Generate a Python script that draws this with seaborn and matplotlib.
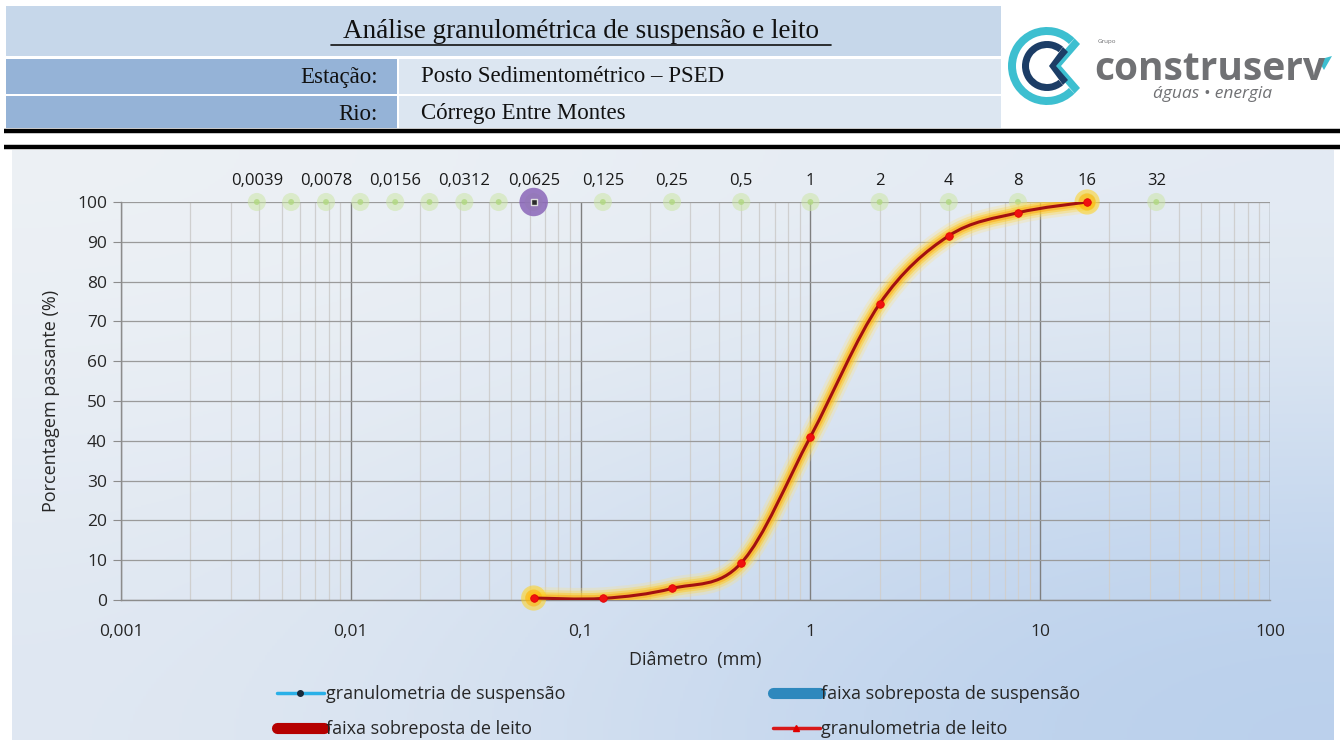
import numpy as np
import matplotlib
matplotlib.use("Agg")
import matplotlib.pyplot as plt
import seaborn as sns
import pandas as pd
from matplotlib.path import Path
from matplotlib.patches import PathPatch, Rectangle, Wedge, Polygon
from matplotlib.lines import Line2D
from matplotlib.ticker import FixedLocator, FixedFormatter, NullFormatter
import matplotlib.transforms as mtransforms

# ---------------- data ----------------
title = "Análise granulométrica de suspensão e leito"
station_label = "Estação:"
station = "Posto Sedimentométrico – PSED"
river_label = "Rio:"
river = "Córrego Entre Montes"

leito_diam = [0.0625, 0.125, 0.25, 0.5, 1, 2, 4, 8, 16]
leito_pct = [0.5, 0.4, 2.9, 9.3, 41.0, 74.4, 91.5, 97.3, 100.0]
susp_diam = [0.0625]
susp_pct = [100.0]
ref_diam = [0.0039, 0.0055, 0.0078, 0.011, 0.0156, 0.022, 0.0312, 0.044, 0.0625,
            0.125, 0.25, 0.5, 1, 2, 4, 8, 16, 32]
top_label_vals = [0.0039, 0.0078, 0.0156, 0.0312, 0.0625, 0.125, 0.25, 0.5, 1, 2, 4, 8, 16, 32]
top_labels = ["0,0039", "0,0078", "0,0156", "0,0312", "0,0625", "0,125", "0,25", "0,5",
              "1", "2", "4", "8", "16", "32"]
x_ticks = [0.001, 0.01, 0.1, 1, 10, 100]
x_tick_labels = ["0,001", "0,01", "0,1", "1", "10", "100"]
y_ticks = list(range(0, 101, 10))
legend_labels = ["granulometria de suspensão", "faixa sobreposta de suspensão",
                 "faixa sobreposta de leito", "granulometria de leito"]

# ---------------- style ----------------
sns.set_style("white")
plt.rcParams["font.family"] = ["Open Sans", "DejaVu Sans"]

W, H = 1344, 743
fig = plt.figure(figsize=(W / 100, H / 100), dpi=100)
fig.patch.set_facecolor("white")

# background / header axes in pixel coordinates
bg = fig.add_axes([0, 0, 1, 1], zorder=0)
bg.set_xlim(0, W)
bg.set_ylim(H, 0)
bg.axis("off")

# gradient of chart area
grad = np.array([[[0.93, 0.945, 0.96], [0.90, 0.925, 0.955]],
                 [[0.88, 0.91, 0.95], [0.72, 0.81, 0.925]]])
bg.imshow(grad, extent=(12, 1334, 740, 150), interpolation="bicubic", aspect="auto", zorder=0)

# header table
serif = ["Liberation Serif", "DejaVu Serif"]
bg.add_patch(Rectangle((6, 6), 995, 50, facecolor="#c6d7ea", edgecolor="none"))
bg.add_patch(Rectangle((6, 59), 391, 35, facecolor="#95b3d7", edgecolor="none"))
bg.add_patch(Rectangle((399, 59), 602, 35, facecolor="#dce6f1", edgecolor="none"))
bg.add_patch(Rectangle((6, 96), 391, 32, facecolor="#95b3d7", edgecolor="none"))
bg.add_patch(Rectangle((399, 96), 602, 32, facecolor="#dce6f1", edgecolor="none"))
bg.text(581, 32, title, family=serif, fontsize=19.5, ha="center", va="center", color="#111111")
bg.plot([331, 831], [45, 45], color="#111111", lw=1.2)
bg.text(378, 77, station_label, family=serif, fontsize=16.5, ha="right", va="center", color="#111111")
bg.text(421, 77, station, family=serif, fontsize=16.5, ha="left", va="center", color="#111111")
bg.text(378, 114, river_label, family=serif, fontsize=16.5, ha="right", va="center", color="#111111")
bg.text(421, 114, river, family=serif, fontsize=16.5, ha="left", va="center", color="#111111")
bg.plot([4, 1340], [130.5, 130.5], color="black", lw=3.2, solid_capstyle="butt")
bg.plot([4, 1340], [146.5, 146.5], color="black", lw=3.2, solid_capstyle="butt")

# logo
cx, cy = 1047, 66
bg.add_patch(Wedge((cx, cy), 39, 45, 315, width=8, facecolor="#3dbfd0", edgecolor="none"))
bg.add_patch(Polygon([[cx + 27.6, cy - 27.6], [cx + 33, cy - 22], [cx + 14, cy], [cx + 33, cy + 22],
                      [cx + 27.6, cy + 27.6], [cx + 4, cy]], closed=True, facecolor="#3dbfd0", edgecolor="none"))
bg.add_patch(Wedge((cx, cy), 25, 50, 310, width=7, facecolor="#1c3d66", edgecolor="none"))
bg.add_patch(Polygon([[cx + 16, cy - 19], [cx + 21, cy - 14], [cx + 9, cy], [cx + 21, cy + 14],
                      [cx + 16, cy + 19], [cx + 2, cy]], closed=True, facecolor="#1c3d66", edgecolor="none"))
bg.text(1098, 42, "Grupo", fontsize=4.5, color="#6d6e71", ha="left", va="center")
bg.text(1094, 69, "construserv", family=["Open Sans", "DejaVu Sans"], fontsize=28, fontweight="bold",
        color="#707174", ha="left", va="center", fontstretch="condensed")
bg.add_patch(Polygon([[1318, 60], [1332, 56], [1324, 70]], closed=True, facecolor="#3dbfd0", edgecolor="none"))
bg.text(1213, 94, "águas • energia", fontsize=12.5, style="italic", color="#707174", ha="center", va="center")

# ---------------- main plot ----------------
ax = fig.add_axes([121 / W, 1 - 600 / H, (1270 - 121) / W, (600 - 202) / H], zorder=2)
ax.set_facecolor("none")
ax.set_xscale("log")
ax.set_xlim(0.001, 100)
ax.set_ylim(0, 100)

ax.xaxis.set_major_locator(FixedLocator(x_ticks))
ax.xaxis.set_major_formatter(FixedFormatter(x_tick_labels))
minor = [m * 10.0 ** e for e in range(-3, 2) for m in range(2, 10)]
ax.xaxis.set_minor_locator(FixedLocator(minor))
ax.xaxis.set_minor_formatter(NullFormatter())
ax.set_yticks(y_ticks)
ax.grid(which="major", axis="x", color="#7f7f7f", lw=1.0)
ax.grid(which="minor", axis="x", color="#cfcfcf", lw=0.9)
ax.grid(which="major", axis="y", color="#9a9a9a", lw=0.9)
ax.set_axisbelow(True)
for s in ["top", "right"]:
    ax.spines[s].set_visible(False)
for s in ["left", "bottom"]:
    ax.spines[s].set_color("#8c8c8c")
    ax.spines[s].set_linewidth(1.0)
ax.tick_params(axis="y", which="major", direction="out", length=6, color="#8c8c8c", labelsize=12.5,
               pad=4, left=True)
ax.tick_params(axis="x", which="both", length=0, labelsize=12.5, pad=17)

# reference green markers at top
df_ref = pd.DataFrame({"d": ref_diam, "p": [100.0] * len(ref_diam)})
sns.scatterplot(data=df_ref, x="d", y="p", ax=ax, color="#cde6a8", s=170, alpha=0.55,
                edgecolor="none", legend=False, zorder=3, clip_on=False)
sns.scatterplot(data=df_ref, x="d", y="p", ax=ax, color="#b0d880", s=18, alpha=0.8,
                edgecolor="none", legend=False, zorder=3, clip_on=False)

# top labels
btr = mtransforms.blended_transform_factory(ax.transData, ax.transAxes)
for v, t in zip(top_label_vals, top_labels):
    ax.text(v, 1.053, t, transform=btr, ha="center", va="center", fontsize=12, color="#1a1a1a")

# smoothed curve (Catmull-Rom in log-x space)
lx = np.log10(np.array(leito_diam, dtype=float))
py = np.array(leito_pct, dtype=float)
P = np.column_stack([lx, py])
verts = [P[0]]
codes = [Path.MOVETO]
n = len(P)
for i in range(n - 1):
    p0 = P[i - 1] if i > 0 else P[i]
    p1 = P[i]
    p2 = P[i + 1]
    p3 = P[i + 2] if i + 2 < n else P[i + 1]
    c1 = p1 + (p2 - p0) / 6.0
    c2 = p2 - (p3 - p1) / 6.0
    verts += [c1, c2, p2]
    codes += [Path.CURVE4] * 3
verts = np.array(verts)
verts[:, 0] = 10 ** verts[:, 0]
path = Path(verts, codes)
for lw, col, a in [(16, "#ffe27a", 0.25), (12, "#ffd84a", 0.35), (8.5, "#ffc81e", 0.45), (5.5, "#ff9f00", 0.45)]:
    ax.add_patch(PathPatch(path, facecolor="none", edgecolor=col, lw=lw, alpha=a,
                           capstyle="round", joinstyle="round", zorder=4))
ax.add_patch(PathPatch(path, facecolor="none", edgecolor="#a31010", lw=2.2, zorder=5))

# end glows
df_end = pd.DataFrame({"d": [leito_diam[0], leito_diam[-1]], "p": [leito_pct[0], leito_pct[-1]]})
sns.scatterplot(data=df_end, x="d", y="p", ax=ax, color="#ffd21e", s=330, alpha=0.55,
                edgecolor="none", legend=False, zorder=4, clip_on=False)
sns.scatterplot(data=df_end, x="d", y="p", ax=ax, color="#ffb000", s=150, alpha=0.5,
                edgecolor="none", legend=False, zorder=4, clip_on=False)

# leito markers
df_l = pd.DataFrame({"d": leito_diam, "p": leito_pct})
sns.scatterplot(data=df_l, x="d", y="p", ax=ax, color="#f01010", s=30, marker="o",
                edgecolor="#e00000", linewidth=0.5, legend=False, zorder=6, clip_on=False)

# suspension point
df_s = pd.DataFrame({"d": susp_diam, "p": susp_pct})
sns.scatterplot(data=df_s, x="d", y="p", ax=ax, color="#8a66b8", s=420, alpha=0.85,
                edgecolor="none", legend=False, zorder=6, clip_on=False)
sns.scatterplot(data=df_s, x="d", y="p", ax=ax, color="#2a2a2a", s=22, marker="s",
                edgecolor="#dddddd", linewidth=1.0, legend=False, zorder=7, clip_on=False)

ax.set_xlabel("Diâmetro  (mm)", fontsize=13, labelpad=8)
ax.set_ylabel("Porcentagem passante (%)", fontsize=13, labelpad=12)

# legend
h_gs = Line2D([], [], color="#29b0e8", lw=2.5, marker="o", markersize=4, markerfacecolor="#1a2a3a",
              markeredgecolor="#1a2a3a")
h_fs = Line2D([], [], color="#2e88bd", lw=8, solid_capstyle="round")
h_fl = Line2D([], [], color="#b50000", lw=8, solid_capstyle="round")
h_gl = Line2D([], [], color="#d81818", lw=2.5, marker="^", markersize=4, markerfacecolor="#e00000",
              markeredgecolor="#e00000")
leg = fig.legend([h_gs, h_fl, h_fs, h_gl],
                 [legend_labels[0], legend_labels[2], legend_labels[1], legend_labels[3]],
                 ncol=2, loc="center", bbox_to_anchor=(0.505, 0.042), frameon=False,
                 fontsize=13, handlelength=2.6, handletextpad=0.1, columnspacing=11.5,
                 labelspacing=0.95)

fig.savefig("out.png", dpi=100)
